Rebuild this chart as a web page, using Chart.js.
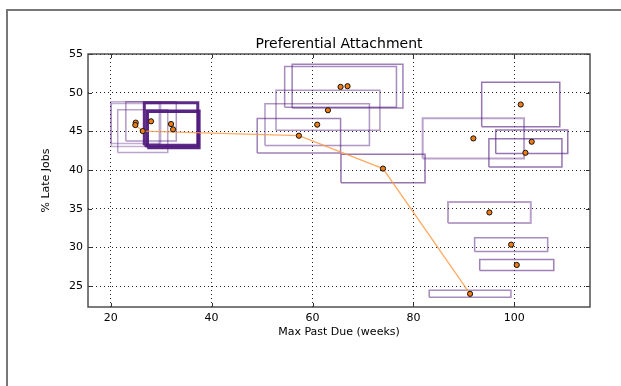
<!DOCTYPE html>
<html><head><meta charset="utf-8">
<script src="https://cdn.jsdelivr.net/npm/chart.js@4.4.1/dist/chart.umd.min.js"></script>
<style>
html,body{margin:0;padding:0;background:#fff;overflow:hidden}
#wrap{position:relative;width:621px;height:386px}
#frame{position:absolute;left:6px;top:9px;width:700px;height:500px;border-left:2px solid #777;border-top:2px solid #777}
canvas{position:absolute;left:0;top:0}
</style></head><body>
<div id="wrap"><div id="frame"></div><canvas id="c" width="621" height="386"></canvas></div>
<script>
// ---- data ----
const pastDue       = [24.96, 24.88, 28.00, 26.35, 31.96, 32.36, 65.56, 66.94, 63.06, 60.93, 57.30, 73.97, 101.27, 91.88, 103.45, 102.20, 95.06, 99.37, 100.48, 91.23];
const lateJobs      = [46.13, 45.82, 46.30, 45.04, 45.95, 45.26, 50.75, 50.84, 47.73, 45.87, 44.44, 40.19, 48.47, 44.09, 43.66, 42.23, 34.52, 30.36, 27.73, 24.00];
const pastDueSpread = [4.93, 4.76, 5.00, 4.96, 5.30, 5.12, 11.08, 10.98, 10.30, 10.35, 8.26, 8.33, 7.74, 10.05, 7.14, 7.24, 8.20, 7.24, 7.34, 8.10];
const lateJobsSpread= [2.70, 2.77, 2.53, 2.77, 2.75, 2.34, 2.64, 2.82, 2.60, 2.70, 2.23, 1.84, 2.88, 2.60, 1.53, 1.82, 1.36, 0.89, 0.71, 0.45];
const pathIndex     = [1, 3, 10, 11, 19];
const xTicks = [20, 40, 60, 80, 100];
const yTicks = [25, 30, 35, 40, 45, 50, 55];

// ---- styles ----
const boxWidth = [1.5,1.5,1.5,1.5,3,3.5,1.5,1.5,1.5,1.5,1.5,1.5,1.5,2,1.5,1.5,2,1.5,1.5,1.5];
const boxAlpha = [0.35,0.35,0.45,0.4,0.92,0.95,0.5,0.55,0.45,0.45,0.55,0.6,0.6,0.4,0.6,0.6,0.4,0.5,0.55,0.5];
const FONT = "'DejaVu Sans', sans-serif";

const datasets = [];
datasets.push({
  data: pastDue.map((x, i) => ({x, y: lateJobs[i]})),
  pointRadius: 2.6, pointBackgroundColor: '#f07c12', pointBorderColor: '#111', pointBorderWidth: 1,
  showLine: false, order: 0
});
datasets.push({
  data: pathIndex.map(i => ({x: pastDue[i], y: lateJobs[i]})),
  showLine: true, borderColor: 'rgba(255,150,60,0.8)', borderWidth: 1.3, pointRadius: 0, order: 1
});
pastDue.forEach((x, i) => {
  const y = lateJobs[i], dx = pastDueSpread[i], dy = lateJobsSpread[i];
  datasets.push({
    data: [{x: x-dx, y: y-dy}, {x: x+dx, y: y-dy}, {x: x+dx, y: y+dy}, {x: x-dx, y: y+dy}, {x: x-dx, y: y-dy}],
    showLine: true, pointRadius: 0, borderWidth: boxWidth[i],
    borderColor: `rgba(80,25,125,${boxAlpha[i]})`, borderJoinStyle: 'miter', order: 2
  });
});

const frameTicks = {
  id: 'frameTicks',
  afterLayout(chart) {
    if (chart.titleBlock) {
      chart.titleBlock.left = chart.chartArea.left;
      chart.titleBlock.right = chart.chartArea.right;
    }
  },
  afterDatasetsDraw(chart) {
    const {ctx, chartArea: a, scales: {x, y}} = chart;
    ctx.save();
    ctx.strokeStyle = '#333'; ctx.lineWidth = 1;
    const L = 4;
    ctx.beginPath();
    xTicks.forEach(v => { const p = Math.round(x.getPixelForValue(v)) + 0.5;
      ctx.moveTo(p, a.bottom); ctx.lineTo(p, a.bottom - L);
      ctx.moveTo(p, a.top); ctx.lineTo(p, a.top + L); });
    yTicks.forEach(v => { const p = Math.round(y.getPixelForValue(v)) + 0.5;
      ctx.moveTo(a.left, p); ctx.lineTo(a.left + L, p);
      ctx.moveTo(a.right, p); ctx.lineTo(a.right - L, p); });
    ctx.stroke();
    ctx.strokeStyle = '#444'; ctx.lineWidth = 1.4;
    ctx.strokeRect(a.left, a.top, a.right - a.left, a.bottom - a.top);
    ctx.restore();
  }
};

const gridStyle = {color: 'rgba(0,0,0,0.85)', lineWidth: 1, drawTicks: false};
const borderStyle = {display: false, dash: [1, 3]};

new Chart(document.getElementById('c'), {
  type: 'scatter',
  data: {datasets},
  options: {
    responsive: false, animation: false, events: [],
    layout: {padding: {top: 0, left: 0, right: 31, bottom: 0}},
    plugins: {
      legend: {display: false}, tooltip: {enabled: false},
      title: {display: true, text: 'Preferential Attachment', color: '#000',
        font: {family: FONT, size: 14, weight: 'normal'}, padding: {top: 35.6, bottom: 1.6}}
    },
    scales: {
      x: {
        type: 'linear', min: 15.5, max: 115,
        afterBuildTicks: s => { s.ticks = xTicks.map(v => ({value: v})); },
        afterFit: s => { s.height = 79; },
        grid: gridStyle, border: borderStyle,
        ticks: {color: '#000', font: {family: FONT, size: 11}, padding: 5, maxRotation: 0, autoSkip: false},
        title: {display: true, text: 'Max Past Due (weeks)', color: '#000', font: {family: FONT, size: 11}, padding: {top: 0, bottom: 47.4}}
      },
      y: {
        type: 'linear', min: 22.3, max: 55,
        afterBuildTicks: s => { s.ticks = yTicks.map(v => ({value: v})); },
        afterFit: s => { s.width = 88; },
        grid: gridStyle, border: borderStyle,
        ticks: {color: '#000', font: {family: FONT, size: 11}, padding: 5, autoSkip: false},
        title: {display: true, text: '% Late Jobs', color: '#000', font: {family: FONT, size: 11}, padding: {top: 39.4, bottom: 0}}
      }
    }
  },
  plugins: [frameTicks]
});
</script>
</body></html>
